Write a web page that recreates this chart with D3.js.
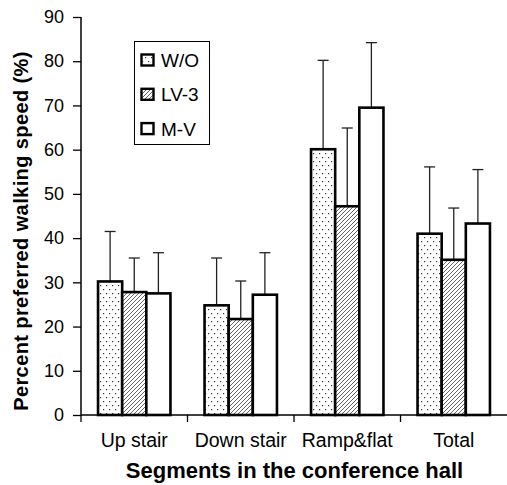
<!DOCTYPE html>
<html><head><meta charset="utf-8">
<script src="https://cdn.jsdelivr.net/npm/d3@7"></script>
<style>body{margin:0;background:#fff}svg{display:block;font-family:"Liberation Sans",Arial,sans-serif}</style>
</head><body><svg id="c" width="507" height="485"></svg>
<script>
const categories = ["Up stair","Down stair","Ramp&flat","Total"];
const series = ["W/O","LV-3","M-V"];
const meanWO  = [30.2, 24.8, 60.1, 41.0];
const meanLV3 = [27.8, 21.7, 47.2, 35.1];
const meanMV  = [27.5, 27.2, 69.5, 43.3];
const errTopWO  = [41.5, 35.5, 80.2, 56.1];
const errTopLV3 = [35.5, 30.3, 64.9, 46.8];
const errTopMV  = [36.7, 36.7, 84.2, 55.5];
const yTicks = [0,10,20,30,40,50,60,70,80,90];
const yLabel = "Percent preferred walking speed (%)";
const xLabel = "Segments in the conference hall";

const means = [meanWO, meanLV3, meanMV];
const tops = [errTopWO, errTopLV3, errTopMV];
const fills = ["url(#dots)","url(#hatch)","#fff"];

const svg = d3.select("#c");
const defs = svg.append("defs");
const pd = defs.append("pattern").attr("id","dots").attr("patternUnits","userSpaceOnUse")
  .attr("width",6).attr("height",8);
pd.append("rect").attr("width",6).attr("height",8).attr("fill","#fff");
pd.append("rect").attr("x",1).attr("y",1).attr("width",1.2).attr("height",1.2).attr("fill","#333");
pd.append("rect").attr("x",4).attr("y",5).attr("width",1.2).attr("height",1.2).attr("fill","#333");
const ph = defs.append("pattern").attr("id","hatch").attr("patternUnits","userSpaceOnUse")
  .attr("width",4).attr("height",4);
ph.append("rect").attr("width",4).attr("height",4).attr("fill","#fff");
ph.append("path").attr("d","M-1,5 L5,-1 M-1,1 L1,-1 M3,5 L5,3").attr("stroke","#555").attr("stroke-width",0.9);

const y = d3.scaleLinear().domain([0,90]).range([415,17]);
const x = d3.scaleBand().domain(categories).range([81,507]).paddingInner(0).paddingOuter(0);
const xs = d3.scaleBand().domain(series).range([x.bandwidth()*0.16, x.bandwidth()*0.84]);

// error bars
const eg = svg.append("g");
series.forEach((s,si)=>{
  categories.forEach((c,ci)=>{
    const cx = x(c)+xs(s)+xs.bandwidth()/2;
    eg.append("line").attr("x1",cx).attr("x2",cx).attr("y1",y(means[si][ci])).attr("y2",y(tops[si][ci]))
      .attr("stroke","#222").attr("stroke-width",1.3);
    eg.append("line").attr("x1",cx-5.5).attr("x2",cx+5.5).attr("y1",y(tops[si][ci])).attr("y2",y(tops[si][ci]))
      .attr("stroke","#222").attr("stroke-width",1.3);
  });
});

// bars
const bg = svg.append("g");
series.forEach((s,si)=>{
  categories.forEach((c,ci)=>{
    bg.append("rect").attr("x",x(c)+xs(s)).attr("width",xs.bandwidth())
      .attr("y",y(means[si][ci])).attr("height",y(0)-y(means[si][ci]))
      .attr("fill",fills[si]).attr("stroke","#000").attr("stroke-width",2.6);
  });
});

// y axis
const ya = svg.append("g").attr("transform","translate(81,0)")
  .call(d3.axisLeft(y).tickValues(yTicks).tickSize(8).tickPadding(9));
ya.select(".domain").attr("d","M0,"+y(90)+"V"+y(0)).attr("stroke","#000").attr("stroke-width",1.5);
ya.selectAll(".tick line").attr("stroke","#000").attr("stroke-width",1.3);
ya.selectAll("text").attr("font-size",18).attr("font-family","Liberation Sans, Arial, sans-serif").attr("fill","#000");

// x axis
const xa = svg.append("g").attr("transform","translate(0,415)");
xa.append("line").attr("x1",81).attr("x2",507).attr("y1",0).attr("y2",0).attr("stroke","#000").attr("stroke-width",1.5);
xa.selectAll(".ct").data(categories).enter().append("line")
  .attr("x1",d=>x(d)).attr("x2",d=>x(d)).attr("y1",0).attr("y2",7).attr("stroke","#000").attr("stroke-width",1.3);
xa.selectAll(".cl").data(categories).enter().append("text")
  .attr("x",d=>x(d)+x.bandwidth()/2).attr("y",31.5).attr("text-anchor","middle")
  .attr("font-size",19.5).text(d=>d);

// axis titles
svg.append("text").attr("x",294.5).attr("y",478).attr("text-anchor","middle")
  .attr("font-size",22).attr("font-weight","bold").text(xLabel);
svg.append("text").attr("transform","translate(27.5,231) rotate(-90)").attr("text-anchor","middle")
  .attr("font-size",20).attr("letter-spacing",0.4).attr("font-weight","bold").text(yLabel);

// legend
const lg = svg.append("g");
lg.append("rect").attr("x",134.5).attr("y",41.5).attr("width",75).attr("height",103)
  .attr("fill","#fff").attr("stroke","#000").attr("stroke-width",1);
series.forEach((s,si)=>{
  const cy = 60 + si*34.3;
  lg.append("rect").attr("x",141.5).attr("y",cy-5.5).attr("width",12).attr("height",11)
    .attr("fill",fills[si]).attr("stroke","#000").attr("stroke-width",2.4);
  lg.append("text").attr("x",161).attr("y",cy+7).attr("font-size",19).text(s);
});
</script></body></html>
